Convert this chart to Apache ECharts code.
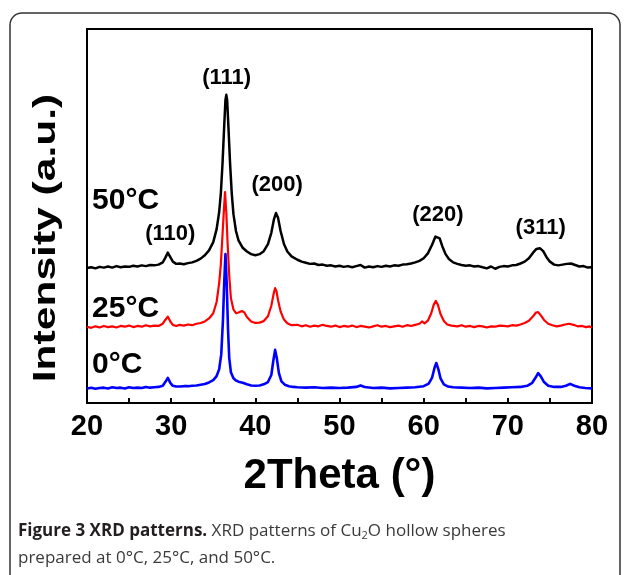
<!DOCTYPE html>
<html>
<head>
<meta charset="utf-8">
<script src="https://cdn.jsdelivr.net/npm/echarts@6/dist/echarts.min.js"></script>
<style>
  html, body { margin: 0; padding: 0; background: #fff; }
  #chart { width: 629px; height: 575px; }
</style>
</head>
<body>
<div id="chart"></div>
<script>
// 2Theta tick labels
const xTicks = [20, 30, 40, 50, 60, 70, 80];

// XRD patterns, [2theta, intensity (a.u., offset as plotted)]
const pattern50C = [
  [20.0, 36.1], [20.5, 36.3], [21.0, 36.0], [21.5, 36.4], [22.0, 36.2], [22.5, 36.5],
  [23.0, 36.2], [23.5, 36.6], [24.0, 36.3], [24.5, 36.5], [25.0, 36.4], [25.5, 36.7],
  [26.0, 36.5], [26.5, 36.8], [27.0, 36.6], [27.5, 36.9], [28.0, 36.8], [28.5, 37.0],
  [29.0, 37.6], [29.3, 38.8], [29.6, 40.2], [29.9, 39.0], [30.2, 37.8], [30.6, 37.2],
  [31.0, 37.3], [31.5, 37.1], [32.0, 37.4], [32.5, 37.6], [33.0, 38.0], [33.5, 38.6],
  [34.0, 39.5], [34.5, 40.8], [35.0, 43.0], [35.4, 46.5], [35.7, 51.0], [35.9, 56.0],
  [36.1, 64.0], [36.3, 74.0], [36.45, 81.0], [36.55, 82.4], [36.65, 81.0], [36.8, 74.0],
  [37.0, 64.0], [37.2, 56.0], [37.4, 50.5], [37.7, 46.0], [38.0, 43.5], [38.5, 41.5],
  [39.0, 40.5], [39.5, 39.8], [40.0, 39.5], [40.5, 39.8], [41.0, 40.6], [41.5, 42.5],
  [41.9, 45.5], [42.2, 49.0], [42.45, 50.8], [42.7, 49.5], [43.0, 46.0], [43.4, 42.5],
  [43.8, 40.5], [44.3, 39.2], [45.0, 38.3], [45.5, 37.8], [46.0, 37.5], [46.5, 37.2],
  [47.0, 37.3], [47.5, 36.9], [48.0, 37.0], [48.5, 36.7], [49.0, 36.8], [49.5, 36.5],
  [50.0, 36.7], [50.5, 36.4], [51.0, 36.6], [51.5, 36.3], [52.0, 36.6], [52.5, 36.9],
  [53.0, 36.2], [53.5, 36.5], [54.0, 36.3], [54.5, 36.6], [55.0, 36.4], [55.5, 36.7],
  [56.0, 36.5], [56.5, 36.8], [57.0, 36.7], [57.5, 37.0], [58.0, 37.1], [58.5, 37.3],
  [59.0, 37.6], [59.5, 38.0], [60.0, 38.7], [60.5, 40.0], [61.0, 42.3], [61.4, 44.5],
  [61.6, 44.9], [61.9, 44.0], [62.2, 42.0], [62.6, 39.8], [63.0, 38.5], [63.5, 37.6],
  [64.0, 37.2], [64.5, 36.9], [65.0, 36.7], [65.5, 36.8], [66.0, 36.5], [66.5, 36.6],
  [67.0, 36.3], [67.5, 36.0], [68.0, 36.5], [68.5, 35.9], [69.0, 36.4], [69.5, 36.6],
  [70.0, 36.5], [70.5, 36.8], [71.0, 36.9], [71.5, 37.3], [72.0, 37.8], [72.5, 38.7],
  [73.0, 40.2], [73.4, 41.2], [73.8, 41.4], [74.2, 40.6], [74.6, 39.0], [75.0, 37.8],
  [75.5, 37.0], [76.0, 36.8], [76.5, 37.0], [77.0, 37.2], [77.5, 37.3], [78.0, 36.9],
  [78.5, 36.5], [79.0, 36.6], [79.5, 36.2], [80.0, 36.3]
];

const pattern25C = [
  [20.0, 20.4], [20.5, 20.1], [21.0, 20.5], [21.5, 20.2], [22.0, 20.6], [22.5, 20.3],
  [23.0, 20.5], [23.5, 20.2], [24.0, 20.6], [24.5, 20.4], [25.0, 20.7], [25.5, 20.3],
  [26.0, 20.6], [26.5, 20.4], [27.0, 20.8], [27.5, 20.5], [28.0, 20.7], [28.5, 20.6],
  [29.0, 21.2], [29.3, 22.2], [29.6, 23.1], [29.9, 21.8], [30.2, 20.9], [30.6, 20.6],
  [31.0, 20.9], [31.5, 20.7], [32.0, 21.0], [32.5, 20.8], [33.0, 21.2], [33.5, 21.4],
  [34.0, 21.8], [34.5, 22.6], [35.0, 24.0], [35.4, 27.0], [35.7, 32.0], [35.9, 37.0],
  [36.1, 45.0], [36.25, 51.0], [36.4, 56.4], [36.55, 51.0], [36.7, 43.0], [36.9, 34.0],
  [37.1, 28.0], [37.4, 25.0], [37.7, 24.0], [38.0, 24.2], [38.4, 24.6], [38.7, 24.2],
  [39.0, 23.0], [39.5, 21.8], [40.0, 21.4], [40.5, 21.5], [41.0, 21.9], [41.5, 23.2],
  [41.9, 26.0], [42.2, 29.5], [42.35, 30.7], [42.5, 30.0], [42.7, 27.5], [43.0, 24.5],
  [43.4, 22.3], [43.8, 21.3], [44.3, 20.8], [45.0, 20.9], [45.5, 20.5], [46.0, 20.8],
  [46.5, 20.4], [47.0, 20.7], [47.5, 20.5], [48.0, 20.9], [48.5, 20.6], [49.0, 20.4],
  [49.5, 20.7], [50.0, 20.3], [50.5, 20.6], [51.0, 20.4], [51.5, 20.7], [52.0, 20.3],
  [52.5, 20.6], [53.0, 20.4], [53.5, 20.2], [54.0, 20.5], [54.5, 20.8], [55.0, 20.4],
  [55.5, 20.6], [56.0, 20.3], [56.5, 20.5], [57.0, 20.7], [57.5, 20.4], [58.0, 20.8],
  [58.5, 20.6], [59.0, 20.9], [59.5, 21.2], [59.8, 21.8], [60.1, 21.3], [60.5, 22.0],
  [60.9, 24.0], [61.2, 26.3], [61.45, 27.3], [61.7, 26.2], [62.0, 23.8], [62.4, 21.9],
  [62.8, 21.0], [63.3, 20.7], [64.0, 20.5], [64.5, 20.8], [65.0, 20.4], [65.5, 20.6],
  [66.0, 20.3], [66.5, 20.6], [67.0, 20.5], [67.5, 20.2], [68.0, 20.5], [68.5, 20.4],
  [69.0, 20.7], [69.5, 20.6], [70.0, 20.5], [70.5, 20.8], [71.0, 20.7], [71.5, 21.0],
  [72.0, 21.4], [72.5, 22.0], [73.0, 23.2], [73.35, 24.2], [73.6, 24.3], [73.9, 23.5],
  [74.3, 22.2], [74.8, 21.2], [75.3, 20.8], [75.8, 20.5], [76.3, 20.7], [76.8, 21.0],
  [77.3, 21.2], [77.8, 20.9], [78.3, 20.5], [78.8, 20.6], [79.3, 20.3], [79.7, 20.5],
  [80.0, 20.1]
];

const pattern0C = [
  [20.0, 3.9], [20.5, 4.1], [21.0, 3.8], [21.5, 4.0], [22.0, 4.1], [22.5, 3.9],
  [23.0, 4.2], [23.5, 4.0], [24.0, 4.1], [24.5, 3.9], [25.0, 4.2], [25.5, 4.0],
  [26.0, 4.1], [26.5, 4.0], [27.0, 4.3], [27.5, 4.1], [28.0, 4.2], [28.5, 4.3],
  [29.0, 4.6], [29.3, 5.6], [29.6, 6.7], [29.9, 5.4], [30.2, 4.6], [30.6, 4.4],
  [31.0, 4.4], [31.5, 4.5], [32.0, 4.5], [32.5, 4.6], [33.0, 4.7], [33.5, 4.9],
  [34.0, 5.1], [34.5, 5.5], [35.0, 6.1], [35.4, 7.2], [35.7, 9.0], [35.95, 13.0],
  [36.15, 22.0], [36.3, 32.0], [36.45, 39.8], [36.6, 32.0], [36.75, 20.0], [36.9, 12.0],
  [37.1, 8.2], [37.4, 6.6], [37.7, 6.0], [38.0, 5.7], [38.5, 5.4], [39.0, 5.0],
  [39.5, 4.7], [40.0, 4.6], [40.5, 4.7], [41.0, 5.0], [41.5, 5.6], [41.9, 7.5],
  [42.15, 11.5], [42.35, 14.2], [42.55, 12.0], [42.8, 8.0], [43.1, 5.8], [43.5, 4.9],
  [44.0, 4.5], [44.5, 4.3], [45.0, 4.2], [46.0, 4.1], [47.0, 4.2], [48.0, 4.0],
  [49.0, 4.1], [50.0, 4.0], [51.0, 4.1], [52.0, 4.3], [52.5, 4.7], [53.0, 4.3],
  [54.0, 4.0], [55.0, 4.1], [56.0, 3.9], [57.0, 4.0], [58.0, 4.1], [59.0, 4.2],
  [60.0, 4.5], [60.6, 5.2], [61.0, 6.8], [61.3, 9.5], [61.5, 10.7], [61.75, 9.0],
  [62.0, 6.6], [62.4, 5.0], [62.9, 4.4], [63.5, 4.2], [64.5, 4.1], [65.5, 4.0],
  [66.5, 4.1], [67.5, 3.9], [68.5, 4.0], [69.5, 4.1], [70.5, 4.2], [71.5, 4.3],
  [72.3, 4.6], [72.9, 5.4], [73.3, 6.8], [73.6, 8.0], [73.9, 7.2], [74.3, 5.6],
  [74.8, 4.6], [75.5, 4.3], [76.3, 4.3], [76.9, 4.6], [77.4, 5.1], [77.9, 4.6],
  [78.5, 4.2], [79.2, 4.0], [80.0, 3.9]
];

// annotations: [text, 2theta, intensity]
const sampleLabels = [['50°C', 20.6, 54.0], ['25°C', 20.6, 25.1], ['0°C', 20.6, 10.2]];
const planeLabels = [
  ['(111)', 36.6, 86.9], ['(200)', 42.6, 58.3], ['(110)', 29.9, 45.2],
  ['(220)', 61.7, 50.3], ['(311)', 73.9, 46.8]
];

const chart = echarts.init(document.getElementById('chart'));

const FONT = '"Liberation Sans", Arial, sans-serif';

function lineSeries(name, data, color, width) {
  return {
    name: name,
    type: 'line',
    data: data,
    showSymbol: false,
    symbol: 'none',
    smooth: false,
    silent: true,
    lineStyle: { color: color, width: width, join: 'round' },
    animation: false
  };
}

function labelSeries(items, position, size) {
  return {
    type: 'scatter',
    silent: true,
    symbolSize: 0,
    itemStyle: { opacity: 1, color: '#000' },
    data: items.map(d => ({ name: d[0], value: [d[1], d[2]] })),
    label: {
      show: true, position: position, distance: 0, formatter: p => p.name,
      fontFamily: FONT, fontWeight: 'bold', fontSize: size,
      color: '#000', opacity: 1, textBorderWidth: 0
    },
    z: 5
  };
}

const option = {
  backgroundColor: '#fff',
  animation: false,
  grid: {
    left: 87, right: 37, top: 29, bottom: 172,
    show: true, borderColor: '#000', borderWidth: 2
  },
  xAxis: {
    type: 'value',
    min: xTicks[0],
    max: xTicks[xTicks.length - 1],
    interval: xTicks[1] - xTicks[0],
    name: '2Theta (°)',
    nameLocation: 'middle',
    nameGap: 52,
    nameTextStyle: { fontFamily: FONT, fontWeight: 'bold', fontSize: 42, color: '#000' },
    axisLine: { show: false },
    axisTick: { show: true, inside: true, length: 5, lineStyle: { color: '#000', width: 2 } },
    minorTick: { show: true, splitNumber: 2, length: 5, lineStyle: { color: '#000', width: 2 } },
    splitLine: { show: false },
    axisLabel: { fontFamily: FONT, fontWeight: 'bold', fontSize: 29, color: '#000', margin: 9 }
  },
  yAxis: {
    type: 'value',
    min: 0,
    max: 100,
    axisLine: { show: false },
    axisTick: { show: false },
    axisLabel: { show: false },
    splitLine: { show: false }
  },
  series: [
    lineSeries('50°C', pattern50C, '#000000', 2.5),
    lineSeries('25°C', pattern25C, '#ff0000', 2.2),
    lineSeries('0°C', pattern0C, '#0000ff', 2.6),
    labelSeries(planeLabels, 'inside', 22),
    labelSeries(sampleLabels, 'right', 30)
  ],
  graphic: [
    {
      type: 'rect',
      shape: { x: 10, y: 13, width: 610, height: 620, r: [12, 12, 0, 0] },
      style: { fill: 'none', stroke: '#333', lineWidth: 1.5 },
      silent: true
    },
    {
      type: 'text',
      x: 46, y: 238,
      rotation: Math.PI / 2,
      scaleX: 1.33,
      style: {
        text: 'Intensity (a.u.)',
        font: 'bold 32px "Liberation Sans", Arial, sans-serif',
        fill: '#000',
        textAlign: 'center',
        textVerticalAlign: 'middle'
      },
      silent: true
    },
    {
      type: 'text',
      x: 18, y: 518,
      style: {
        text: '{b|Figure 3 XRD patterns.}{n| XRD patterns of Cu}{s|2}{n|O hollow spheres}\n{n|prepared at 0°C, 25°C, and 50°C.}',
        rich: {
          b: { font: 'bold 17px "Open Sans", sans-serif', fill: '#231f20', lineHeight: 27 },
          n: { font: '17px "Open Sans", sans-serif', fill: '#3a3a3a', lineHeight: 27 },
          s: { font: '11px "Open Sans", sans-serif', fill: '#3a3a3a', lineHeight: 27, padding: [9, 0, 0, 0] }
        }
      },
      silent: true
    }
  ]
};

chart.setOption(option);
</script>
</body>
</html>
